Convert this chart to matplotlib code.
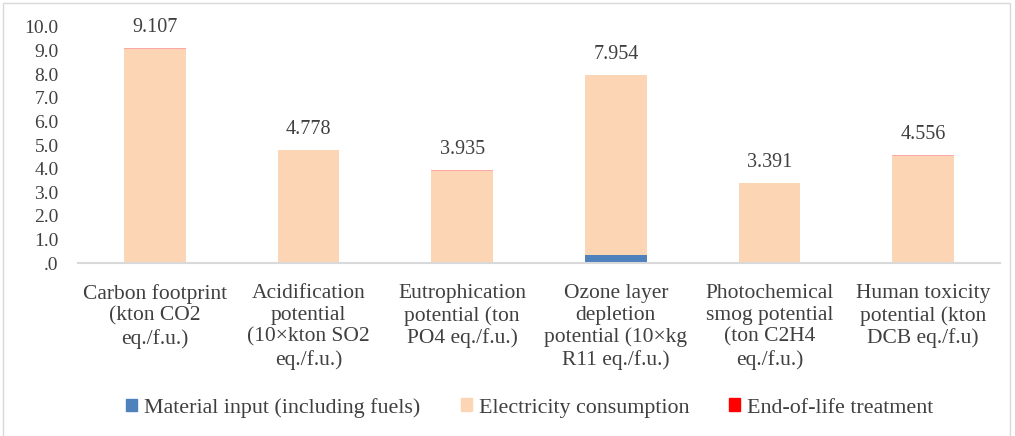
import matplotlib.pyplot as plt
import matplotlib.patches as mpatches
import numpy as np

categories = [
    "Carbon footprint\n(kton CO2\neq./f.u.)",
    "Acidification\npotential\n(10×kton SO2\neq./f.u.)",
    "Eutrophication\npotential (ton\nPO4 eq./f.u.)",
    "Ozone layer\ndepletion\npotential (10×kg\nR11 eq./f.u.)",
    "Photochemical\nsmog potential\n(ton C2H4\neq./f.u.)",
    "Human toxicity\npotential (kton\nDCB eq./f.u)",
]
totals = [9.107, 4.778, 3.935, 7.954, 3.391, 4.556]
material = [0.06, 0.02, 0.06, 0.35, 0.02, 0.02]
end_of_life = [0.02, 0.005, 0.02, 0.005, 0.005, 0.005]
electricity = [t - m - e for t, m, e in zip(totals, material, end_of_life)]

series_names = ['Material input (including fuels)', 'Electricity consumption',
                'End-of-life treatment']
series_colors = ['#4f81bd', '#fcd5b5', '#ff0000']

plt.rcParams['font.family'] = ['Liberation Serif', 'DejaVu Serif']
text_col = '#404040'

fig = plt.figure(figsize=(10.15, 4.36), dpi=100)
ax = fig.add_axes([78 / 1015, 1 - 263 / 436, 922 / 1015, 236 / 436])

x = np.arange(len(categories))
w = 0.4
ax.bar(x, material, w, color=series_colors[0])
ax.bar(x, electricity, w, bottom=material, color=series_colors[1])
ax.bar(x, end_of_life, w, bottom=np.add(material, electricity),
       color=series_colors[2], alpha=0.35)

for xi, t in zip(x, totals):
    ax.annotate(f"{t:.3f}", (xi, t), xytext=(0, 15), textcoords='offset points',
                ha='center', va='center', fontsize=14.5, color=text_col)

ax.set_xlim(-0.5, len(categories) - 0.5)
ax.set_ylim(0, 10)
ax.set_yticks(np.arange(0, 11, 1))
ax.set_yticklabels(['.0'] + [f"{v:.1f}" for v in range(1, 11)])
ax.set_xticks(x)
ax.set_xticklabels(categories, linespacing=1.2)
ax.tick_params(axis='both', length=0, labelcolor=text_col)
ax.tick_params(axis='x', pad=15, labelsize=15.5)
ax.tick_params(axis='y', pad=14, labelsize=14)
for s in ['top', 'right', 'left']:
    ax.spines[s].set_visible(False)
ax.spines['bottom'].set_color('#d9d9d9')
ax.spines['bottom'].set_linewidth(1.5)

# legend entries placed one by one, like the spreadsheet layout
leg_x = [126, 461, 729]
for name, col, lx in zip(series_names, series_colors, leg_x):
    leg = fig.legend([mpatches.Patch(color=col)], [name], loc='center left',
                     bbox_to_anchor=(lx / 1015, 1 - 408 / 436), frameon=False,
                     fontsize=15.8, handlelength=0.5, handleheight=0.5,
                     handletextpad=0.3, borderpad=0, borderaxespad=0)
    for t in leg.get_texts():
        t.set_color(text_col)

fig.patches.append(mpatches.Rectangle((3 / 1015, -0.02), 1007 / 1015, 1 - 3 / 436 + 0.02,
                                      transform=fig.transFigure, fill=False,
                                      edgecolor='#d9d9d9', linewidth=1))

fig.savefig('out.png', dpi=100)
